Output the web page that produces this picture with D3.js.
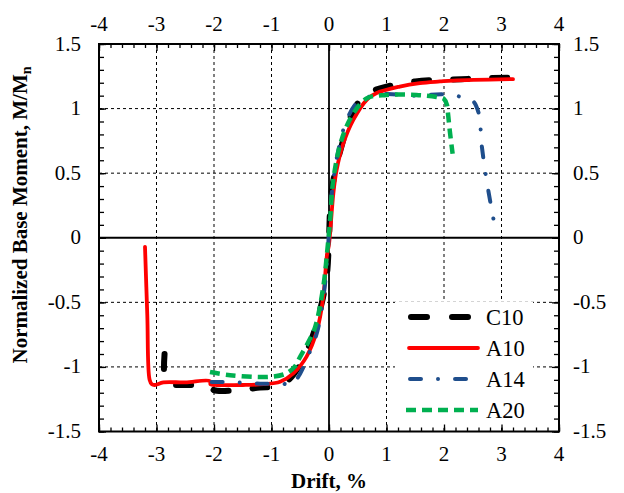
<!DOCTYPE html>
<html><head><meta charset="utf-8">
<script src="https://cdn.jsdelivr.net/npm/d3@7"></script>
<style>body{margin:0;background:#fff}svg{display:block}</style>
</head><body>
<script>
const xTicks=[-4,-3,-2,-1,0,1,2,3,4];
const yTicks=[-1.5,-1,-0.5,0,0.5,1,1.5];
const seriesNames=["C10","A10","A14","A20"];
const c10X=[-2.86,-2.86,-2.8,-2.6,-2.25,-2.08,-2.0,-1.6,-1.2,-0.9,-0.7,-0.5,-0.3,-0.15,-0.04,0.0,0.03,0.1,0.2,0.4,0.6,0.72,1.0,1.5,2.3,3.15];
const c10Y=[-0.9,-1.08,-1.13,-1.14,-1.14,-1.15,-1.18,-1.18,-1.16,-1.15,-1.1,-0.98,-0.78,-0.55,-0.3,0.0,0.3,0.5,0.68,0.96,1.1,1.13,1.17,1.21,1.228,1.24];
const a10X=[-3.2,-3.16,-3.12,-3.08,-3.03,-2.88,-2.5,-2.07,-2.06,-1.95,-1.5,-1.14,-0.85,-0.62,-0.39,-0.21,-0.1,-0.04,0.0,0.03,0.075,0.13,0.25,0.42,0.66,0.83,1.23,1.58,1.93,2.16,3.2];
const a10Y=[-0.07,-0.6,-1.1,-1.135,-1.14,-1.12,-1.12,-1.11,-1.135,-1.14,-1.14,-1.134,-1.115,-1.05,-0.92,-0.72,-0.46,-0.15,-0.05,0.1,0.34,0.52,0.73,0.91,1.07,1.12,1.17,1.197,1.21,1.217,1.228];
const a14X=[-2.04,-1.6,-1.2,-0.97,-0.8,-0.65,-0.5,-0.35,-0.2,-0.08,-0.02,0.0,0.05,0.15,0.3,0.5,0.9,1.5,2.0,2.3,2.5,2.6,2.66,2.75,2.9];
const a14Y=[-1.116,-1.12,-1.13,-1.13,-1.13,-1.14,-1.05,-0.9,-0.72,-0.4,-0.1,0.05,0.35,0.65,0.9,1.05,1.11,1.1,1.11,1.09,1.06,0.97,0.7,0.42,0.05];
const a20X=[-2.07,-1.72,-1.03,-0.74,-0.6,-0.5,-0.35,-0.24,-0.1,-0.03,0.02,0.075,0.22,0.42,0.66,1.0,1.52,1.87,2.0,2.05,2.07,2.1,2.15];
const a20Y=[-1.04,-1.064,-1.077,-1.05,-1.0,-0.92,-0.8,-0.69,-0.38,-0.1,0.14,0.45,0.76,0.96,1.08,1.106,1.106,1.09,1.075,1.03,0.96,0.83,0.65];

const W=624,H=493;
const L=99,R=559,T=44,B=431.5;
const font="'Liberation Serif', 'Times New Roman', serif";
const svg=d3.select("body").append("svg").attr("width",W).attr("height",H);
const x=d3.scaleLinear().domain([-4,4]).range([L,R]);
const y=d3.scaleLinear().domain([-1.5,1.5]).range([B,T]);

// grid
const g=svg.append("g");
g.selectAll(".gx").data(xTicks.filter(d=>d!==-4&&d!==4)).enter().append("line")
 .attr("x1",d=>x(d)).attr("x2",d=>x(d)).attr("y1",T).attr("y2",B)
 .attr("stroke","#000").attr("stroke-width",d=>d===0?1.8:1)
 .attr("stroke-dasharray",d=>d===0?null:"3,3");
g.selectAll(".gy").data(yTicks.filter(d=>d!==-1.5&&d!==1.5)).enter().append("line")
 .attr("y1",d=>y(d)).attr("y2",d=>y(d)).attr("x1",L).attr("x2",R)
 .attr("stroke","#000").attr("stroke-width",d=>d===0?1.8:1)
 .attr("stroke-dasharray",d=>d===0?null:"3,3");

// series
const line=d3.line().x(d=>x(d[0])).y(d=>y(d[1])).curve(d3.curveCatmullRom.alpha(0.5));
const zip=(a,b)=>a.map((v,i)=>[v,b[i]]);
const styles={
 C10:{c:"#000",w:6,da:"15,24",cap:"round"},
 A10:{c:"#ff0000",w:3.8,da:null,cap:"round"},
 A14:{c:"#1f4e8c",w:4,da:"11,17,0.01,17",cap:"round"},
 A20:{c:"#00b050",w:4.5,da:"10,6",cap:"butt"}
};
const data={C10:zip(c10X,c10Y),A10:zip(a10X,a10Y),A14:zip(a14X,a14Y),A20:zip(a20X,a20Y)};
seriesNames.forEach(n=>{
 const s=styles[n];
 svg.append("path").datum(data[n]).attr("d",line).attr("fill","none")
  .attr("stroke",s.c).attr("stroke-width",s.w).attr("stroke-dasharray",s.da)
  .attr("stroke-linecap",s.cap).attr("stroke-linejoin","round");
});

// legend
const lg=svg.append("g");
lg.append("rect").attr("x",395).attr("y",302).attr("width",138).attr("height",124).attr("fill","#fff");
const ly=[317,348,379,410];
seriesNames.forEach((n,i)=>{
 const s=styles[n];
 const x0=n==="A20"?406:(n==="A10"?409:(n==="C10"?411:410));
 lg.append("line").attr("x1",x0).attr("x2",n==="C10"?471:478).attr("y1",ly[i]).attr("y2",ly[i])
  .attr("stroke",s.c).attr("stroke-width",s.w).attr("stroke-dasharray",n==="C10"?"16,25":s.da)
  .attr("stroke-linecap",s.cap);
 lg.append("text").attr("x",486).attr("y",ly[i]+8).text(n)
  .attr("font-family",font).attr("font-size",22.5).attr("fill","#000");
});

// axes with inward ticks
function minor(axisGen,vals){return axisGen.tickValues(vals).tickFormat("");}
const xMinor=d3.range(-4,4.001,0.2).map(v=>+v.toFixed(2));
const yMinor=d3.range(-1.5,1.501,0.1).map(v=>+v.toFixed(2));
function styleAxis(sel){sel.select(".domain").remove();sel.selectAll("line").attr("stroke","#000").attr("stroke-width",1.3);}
svg.append("g").attr("transform",`translate(0,${B})`).call(minor(d3.axisBottom(x).tickSize(-4),xMinor)).call(styleAxis);
svg.append("g").attr("transform",`translate(0,${T})`).call(minor(d3.axisTop(x).tickSize(-4),xMinor)).call(styleAxis);
svg.append("g").attr("transform",`translate(${L},0)`).call(minor(d3.axisLeft(y).tickSize(-5),yMinor)).call(styleAxis);
svg.append("g").attr("transform",`translate(${R},0)`).call(minor(d3.axisRight(y).tickSize(-5),yMinor)).call(styleAxis);
svg.append("g").attr("transform",`translate(0,${B})`).call(minor(d3.axisBottom(x).tickSize(-7),xTicks)).call(styleAxis);
svg.append("g").attr("transform",`translate(0,${T})`).call(minor(d3.axisTop(x).tickSize(-7),xTicks)).call(styleAxis);
svg.append("g").attr("transform",`translate(${L},0)`).call(minor(d3.axisLeft(y).tickSize(-7),yTicks)).call(styleAxis);
svg.append("g").attr("transform",`translate(${R},0)`).call(minor(d3.axisRight(y).tickSize(-7),yTicks)).call(styleAxis);

// frame
svg.append("rect").attr("x",L).attr("y",T).attr("width",R-L).attr("height",B-T)
 .attr("fill","none").attr("stroke","#000").attr("stroke-width",2);

// tick labels
const fs=21;
const fmt=d=>d<0?"-"+String(Math.abs(d)):String(d);
svg.selectAll(".xb").data(xTicks).enter().append("text").attr("x",d=>x(d)).attr("y",461)
 .attr("text-anchor","middle").attr("font-family",font).attr("font-size",fs).text(fmt);
svg.selectAll(".xt").data(xTicks).enter().append("text").attr("x",d=>x(d)).attr("y",31)
 .attr("text-anchor","middle").attr("font-family",font).attr("font-size",fs).text(fmt);
svg.selectAll(".yl").data(yTicks).enter().append("text").attr("x",81).attr("y",d=>y(d)+6.5)
 .attr("text-anchor","end").attr("font-family",font).attr("font-size",fs).text(fmt);
svg.selectAll(".yr").data(yTicks).enter().append("text").attr("x",573).attr("y",d=>y(d)+6.5)
 .attr("text-anchor","start").attr("font-family",font).attr("font-size",fs).text(fmt);

// axis titles
svg.append("text").attr("x",329).attr("y",488).attr("text-anchor","middle")
 .attr("font-family",font).attr("font-size",21).attr("font-weight","bold").text("Drift, %");
const yt=svg.append("text").attr("transform","translate(27,215) rotate(-90)").attr("text-anchor","middle")
 .attr("font-family",font).attr("font-size",21).attr("font-weight","bold");
yt.append("tspan").text("Normalized Base Moment, M/M");
yt.append("tspan").attr("dy",4).attr("font-size",14).text("n");
</script>
</body></html>
